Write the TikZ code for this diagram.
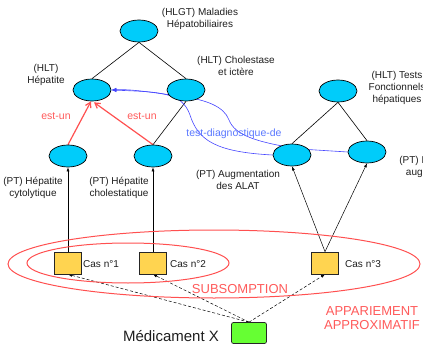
\documentclass[tikz,border=0pt]{standalone}
\usepackage{fontspec}
\setmainfont{Liberation Sans}
\usetikzlibrary{arrows.meta,shapes.geometric}
\pgfdeclarelayer{background}
\pgfsetlayers{background,main}
\definecolor{cyanfill}{RGB}{0,204,250}
\definecolor{yellowfill}{RGB}{255,212,80}
\definecolor{greenfill}{RGB}{102,255,51}
\definecolor{redline}{RGB}{255,80,80}
\definecolor{redtext}{RGB}{255,90,90}
\definecolor{blueline}{RGB}{70,70,255}
\definecolor{bluetext}{RGB}{90,120,255}
\definecolor{textgray}{RGB}{30,30,30}
\tikzset{
  term/.style={ellipse, draw=black, line width=0.7pt, fill=cyanfill, minimum width=38pt, minimum height=22pt, inner sep=0pt},
  casbox/.style={rectangle, draw=black!85, line width=0.7pt, fill=yellowfill, minimum width=27pt, minimum height=22pt, inner sep=0pt},
  drugbox/.style={rectangle, rounded corners=2pt, draw=black!85, line width=0.7pt, fill=greenfill, minimum width=35pt, minimum height=21pt, inner sep=0pt},
  lbl/.style={align=center, text=textgray, font=\fontsize{10}{12}\selectfont, inner sep=0pt},
  caslbl/.style={anchor=west, text=textgray, font=\fontsize{10}{12}\selectfont, inner sep=0pt},
  redlbl/.style={text=redtext, font=\fontsize{10.5}{12}\selectfont, inner sep=0pt},
  bigred/.style={align=center, text=redtext, font=\fontsize{13}{14}\selectfont, inner sep=0pt},
  hier/.style={draw=black, line width=0.6pt},
  uparrow/.style={draw=black, line width=0.5pt, -{Latex[length=4pt,width=3pt]}},
  isarrow/.style={draw=redline, line width=1.2pt, -{Straight Barb[length=5pt,width=6pt]}},
  dasharrow/.style={draw=black, line width=0.5pt, dash pattern=on 3pt off 2pt, -{Latex[length=4pt,width=3pt]}},
  diagarrow/.style={draw=blueline, line width=0.6pt, -{Latex[length=5pt,width=4pt]}},
  setring/.style={ellipse, draw=redline, line width=1pt, inner sep=0pt}
}
\begin{document}
\begin{tikzpicture}[x=1pt,y=-1pt]
\useasboundingbox (0,0) rectangle (423,345);

% terms
\node[term] (hlgt) at (139,31) {};
\node[term] (hep) at (92,90) {};
\node[term] (chol) at (186,90) {};
\node[term] (tests) at (338,91) {};
\node[term] (ptcyt) at (68,156) {};
\node[term] (ptchol) at (153,156) {};
\node[term] (alat) at (292,155) {};
\node[term] (ptr) at (367,152) {};

% cases and drug
\node[casbox] (cas1) at (68,263) {};
\node[casbox] (cas2) at (153,263) {};
\node[casbox] (cas3) at (325,263) {};
\node[drugbox] (med) at (249,333) {};

% labels
\node[lbl] (lhlgt) at (200,19) {(HLGT) Maladies\\Hépatobiliaires};
\node[lbl] (lhep) at (46,74.5) {(HLT)\\Hépatite};
\node[lbl] (lchol) at (236,66) {(HLT) Cholestase\\et ictère};
\node[lbl] (ltests) at (397,88) {(HLT) Tests\\Fonctionnels\\hépatiques};
\begin{scope}
\clip (0,0) rectangle (423,345);
\node[lbl] (lptr) at (431,166.5) {(PT) Bilirubine\\augmentée};
\end{scope}
\node[lbl] (lptcyt) at (33,188) {(PT) Hépatite\\cytolytique};
\node[lbl] (lptchol) at (119,187.5) {(PT) Hépatite\\cholestatique};
\node[lbl] (lalat) at (238,179.5) {(PT) Augmentation\\des ALAT};
\node[caslbl] (lcas1) at (83,264) {Cas n°1};
\node[caslbl] (lcas2) at (170,264) {Cas n°2};
\node[caslbl] (lcas3) at (345,264) {Cas n°3};
\node[redlbl] (isa1) at (56,116) {est-un};
\node[redlbl] (isa2) at (142,116) {est-un};
\node[text=bluetext, font=\fontsize{10.5}{12}\selectfont, inner sep=0pt] (ltd) at (234,134) {test-diagnostique-de};
\node[text=textgray, font=\fontsize{15}{17}\selectfont, inner sep=0pt] (lmed) at (171,336) {Médicament X};
\node[bigred] (lsub) at (240,289) {SUBSOMPTION};
\node[bigred] (lapp) at (372,318) {APPARIEMENT\\APPROXIMATIF};

% red set rings
\node[setring, minimum width=202pt, minimum height=40pt] (inner) at (128,263) {};
\node[setring, minimum width=412pt, minimum height=68pt] (outer) at (214,264) {};

\begin{pgfonlayer}{background}
% hierarchy
\draw[hier] (hlgt.south) -- (hep.north);
\draw[hier] (hlgt.south) -- (chol.north);
\draw[hier] (chol.south) -- (ptchol.north);
\draw[hier] (tests.south) -- (alat.north);
\draw[hier] (tests.south) -- (ptr.north);
% est-un
\draw[isarrow] (ptcyt.north) -- ([xshift=-1pt]hep.south);
\draw[isarrow] (ptchol.north) -- ([xshift=2pt,yshift=-1pt]hep.south);
% coded cases
\draw[uparrow] (cas1.north) -- (ptcyt.south);
\draw[uparrow] (cas2.north) -- (ptchol.south);
\draw[uparrow] (cas3.north) -- (alat.south);
\draw[uparrow] (cas3.north) -- (ptr.south);
% drug matches
\draw[dasharrow] (med.north) -- (cas1.south);
\draw[dasharrow] (med.north) -- (cas2.south);
\draw[dasharrow] (med.north) -- (cas3.south);
% test-diagnostique-de
\draw[diagarrow] (alat.west) .. controls (215,152) and (198,140) .. (190,115) .. controls (182,92) and (160,92) .. (hep.east);
\draw[diagarrow] (ptr.west) -- (300,149) .. controls (255,142) and (235,135) .. (229,120) .. controls (224,106) and (205,100) .. (185,97) .. controls (150,92) and (130,89) .. (hep.east);
\end{pgfonlayer}
\end{tikzpicture}
\end{document}
